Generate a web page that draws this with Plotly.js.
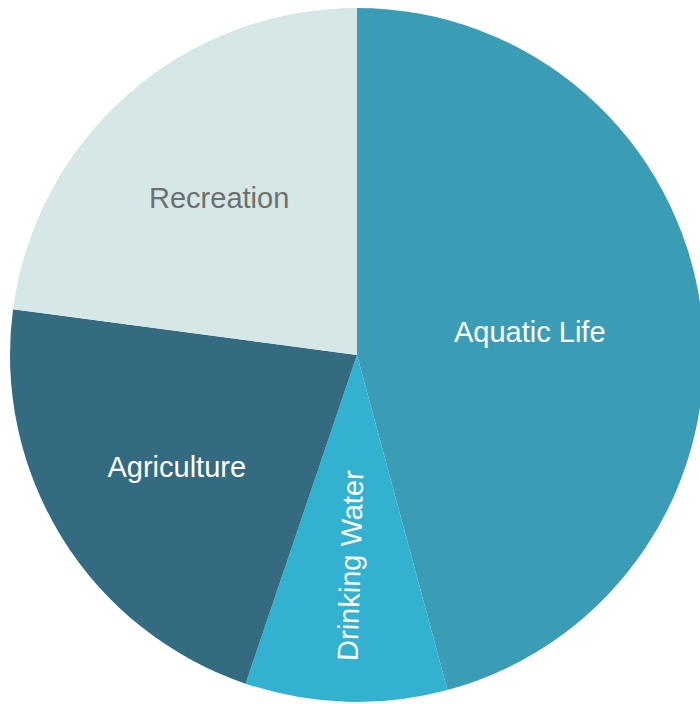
<!DOCTYPE html>
<html>
<head>
<meta charset="utf-8">
<script src="https://cdn.plot.ly/plotly-3.0.1.min.js"></script>
<style>
html, body { margin: 0; padding: 0; overflow: hidden; background: #ffffff; }
#chart { width: 720px; height: 704px; }
</style>
</head>
<body>
<div id="chart"></div>
<script>
const categories = ["Aquatic Life", "Drinking Water", "Agriculture", "Recreation"];
const shares = [45.8, 9.4, 21.9, 22.9];
const sliceColors = ["#3b9db5", "#33b1d1", "#356b80", "#d5e7e7"];
const labelColors = ["#ffffff", "#ffffff", "#ffffff", "#6f6f6f"];

const trace = {
  type: "pie",
  labels: categories,
  values: shares,
  sort: false,
  direction: "clockwise",
  rotation: 0,
  marker: { colors: sliceColors, line: { width: 0 } },
  textinfo: "label",
  textposition: "inside",
  insidetextorientation: "auto",
  textfont: { family: "Liberation Sans, Arial, sans-serif", size: 29, color: labelColors },
  hoverinfo: "label+percent",
  showlegend: false
};

const layout = {
  width: 720,
  height: 704,
  margin: { l: 10, r: 16, t: 8, b: 2 },
  paper_bgcolor: "#ffffff",
  showlegend: false,
  uniformtext: { mode: false }
};

Plotly.newPlot("chart", [trace], layout, { displayModeBar: false, staticPlot: true });
</script>
</body>
</html>
